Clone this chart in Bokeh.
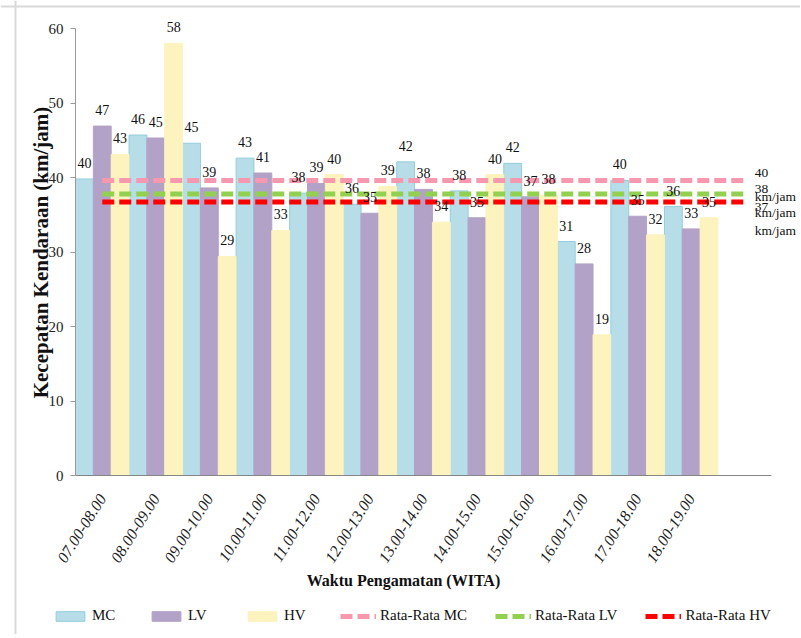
import numpy as np
from bokeh.plotting import figure
from bokeh.models import (ColumnDataSource, Range1d, FixedTicker, LabelSet, Label,
                          Legend, LegendItem, Span)
from bokeh.embed import file_html
from bokeh.resources import INLINE

# ---------------- data ----------------
categories = ["07.00-08.00", "08.00-09.00", "09.00-10.00", "10.00-11.00",
              "11.00-12.00", "12.00-13.00", "13.00-14.00", "14.00-15.00",
              "15.00-16.00", "16.00-17.00", "17.00-18.00", "18.00-19.00"]
mc = [39.8, 45.7, 44.6, 42.6, 37.9, 36.4, 42.1, 38.2, 41.9, 31.4, 39.6, 36.1]
lv = [46.9, 45.3, 38.6, 40.6, 39.2, 35.2, 38.4, 34.6, 37.4, 28.4, 34.8, 33.1]
hv = [43.1, 58.0, 29.4, 32.9, 40.4, 38.8, 34.0, 40.4, 37.6, 18.9, 32.3, 34.6]
avg_mc = 39.6
avg_lv = 37.8
avg_hv = 36.7
series_names = ["MC", "LV", "HV"]
avg_names = ["Rata-Rata MC", "Rata-Rata LV", "Rata-Rata HV"]
unit = "km/jam"
y_ticks = [0, 10, 20, 30, 40, 50, 60]
x_title = "Waktu Pengamatan (WITA)"
y_title = "Kecepatan Kendaraan (km/jam)"

# ---------------- layout / style ----------------
FONT = "Liberation Serif"
bar_fill = ["#B7DEE8", "#B3A2C7", "#FCF3BE"]
bar_line = ["#93CDDD", "#B3A2C7", "#FCF3BE"]
avg_color = ["#F898AE", "#92D050", "#FF0000"]
avg_label_dy = [15, 13, 3]

n = len(categories)
W, H = 800, 634
X0PX, Y0PX = 75, 475            # pixel position of the axes origin
UX = 696 / (n + 1)              # pixels per category slot
UY = 447 / (y_ticks[-1] - y_ticks[0])   # pixels per km/jam


def dx(px):
    return (px - X0PX) / UX


def dy(py):
    return (Y0PX - py) / UY


p = figure(width=W, height=H, output_backend="svg", toolbar_location=None,
           x_range=Range1d(dx(0), dx(W)), y_range=Range1d(dy(H), dy(0)),
           min_border=0, min_border_left=0, min_border_right=0,
           min_border_top=0, min_border_bottom=0)
p.outline_line_color = None
p.xgrid.visible = False
p.ygrid.visible = False
p.background_fill_color = "white"
p.border_fill_color = "white"

# chart-area border (top and left edges)
p.add_layout(Span(location=dy(6), dimension="width", line_color="#D9D9D9", line_width=2))
p.add_layout(Span(location=dx(15), dimension="height", line_color="#D9D9D9", line_width=2))

renderers = []
lab_x, lab_y, lab_t = [], [], []
for k, vals in enumerate([mc, lv, hv]):
    xs = np.arange(n) + (k + 0.5) / 3
    src = ColumnDataSource(dict(x=xs, top=vals))
    r = p.vbar(x="x", top="top", width=1 / 3, source=src,
               fill_color=bar_fill[k], line_color=bar_line[k], line_width=1)
    renderers.append(r)
    lab_x += list(xs)
    lab_y += list(vals)
    lab_t += [f"{v:.0f}" for v in vals]

line_x = np.arange(n + 1) + 0.5
for k, a in enumerate([avg_mc, avg_lv, avg_hv]):
    r = p.line(x=line_x, y=[a] * len(line_x), line_color=avg_color[k],
               line_width=5, line_dash="12 5")
    renderers.append(r)
    p.add_layout(Label(x=line_x[-1], y=a, x_offset=10, y_offset=avg_label_dy[k],
                       text=f"{a:.0f}\n{unit}", text_font=FONT,
                       text_font_size="13.5px", text_align="left",
                       text_baseline="top", text_line_height=1.6,
                       text_color="#111111"))

lab_src = ColumnDataSource(dict(x=lab_x, y=lab_y, t=lab_t))
p.add_layout(LabelSet(x="x", y="y", text="t", source=lab_src, y_offset=11,
                      text_align="center", text_baseline="bottom",
                      text_font=FONT, text_font_size="14px", text_color="#111111"))

# axes
p.yaxis.fixed_location = 0
p.yaxis.bounds = (y_ticks[0], y_ticks[-1])
p.yaxis.ticker = FixedTicker(ticks=y_ticks)
p.yaxis.major_tick_in = 0
p.yaxis.major_tick_out = 5
p.yaxis.minor_tick_line_color = None
p.yaxis.axis_line_color = "#9A9A9A"
p.yaxis.major_tick_line_color = "#9A9A9A"
p.yaxis.major_label_text_font = FONT
p.yaxis.major_label_text_font_size = "15px"
p.yaxis.major_label_text_color = "#222222"
p.yaxis.major_label_standoff = 7

tick_pos = [float(i + 0.5) for i in range(n)]
p.xaxis.fixed_location = 0
p.xaxis.bounds = (0, n + 1)
p.xaxis.ticker = FixedTicker(ticks=tick_pos)
p.xaxis.major_label_overrides = {t: c for t, c in zip(tick_pos, categories)}
p.xaxis.major_label_orientation = 1.01
p.xaxis.major_tick_line_color = None
p.xaxis.minor_tick_line_color = None
p.xaxis.axis_line_color = "#868686"
p.xaxis.major_label_text_font = FONT
p.xaxis.major_label_text_font_size = "16px"
p.xaxis.major_label_text_font_style = "italic"
p.xaxis.major_label_text_color = "#222222"
p.xaxis.major_label_standoff = 14

p.add_layout(Label(x=dx(403), y=dy(580), text=x_title, text_font=FONT,
                   text_font_size="16px", text_font_style="bold",
                   text_align="center", text_baseline="middle",
                   text_color="#111111"))
p.add_layout(Label(x=dx(40), y=dy(252), text=y_title, angle=np.pi / 2,
                   text_font=FONT, text_font_size="21px", text_font_style="bold",
                   text_align="center", text_baseline="middle",
                   text_color="#111111"))

items = [LegendItem(label=nm, renderers=[r])
         for nm, r in zip(series_names + avg_names, renderers)]
legend = Legend(items=items, orientation="horizontal", location=(52, H - 624),
                glyph_width=36, glyph_height=12, label_standoff=4,
                label_width=28, spacing=28, padding=0, margin=0,
                border_line_color=None, background_fill_alpha=0,
                label_text_font=FONT, label_text_font_size="15px",
                label_text_color="#111111")
p.add_layout(legend)

open("out.html", "w").write(file_html(p, INLINE))
